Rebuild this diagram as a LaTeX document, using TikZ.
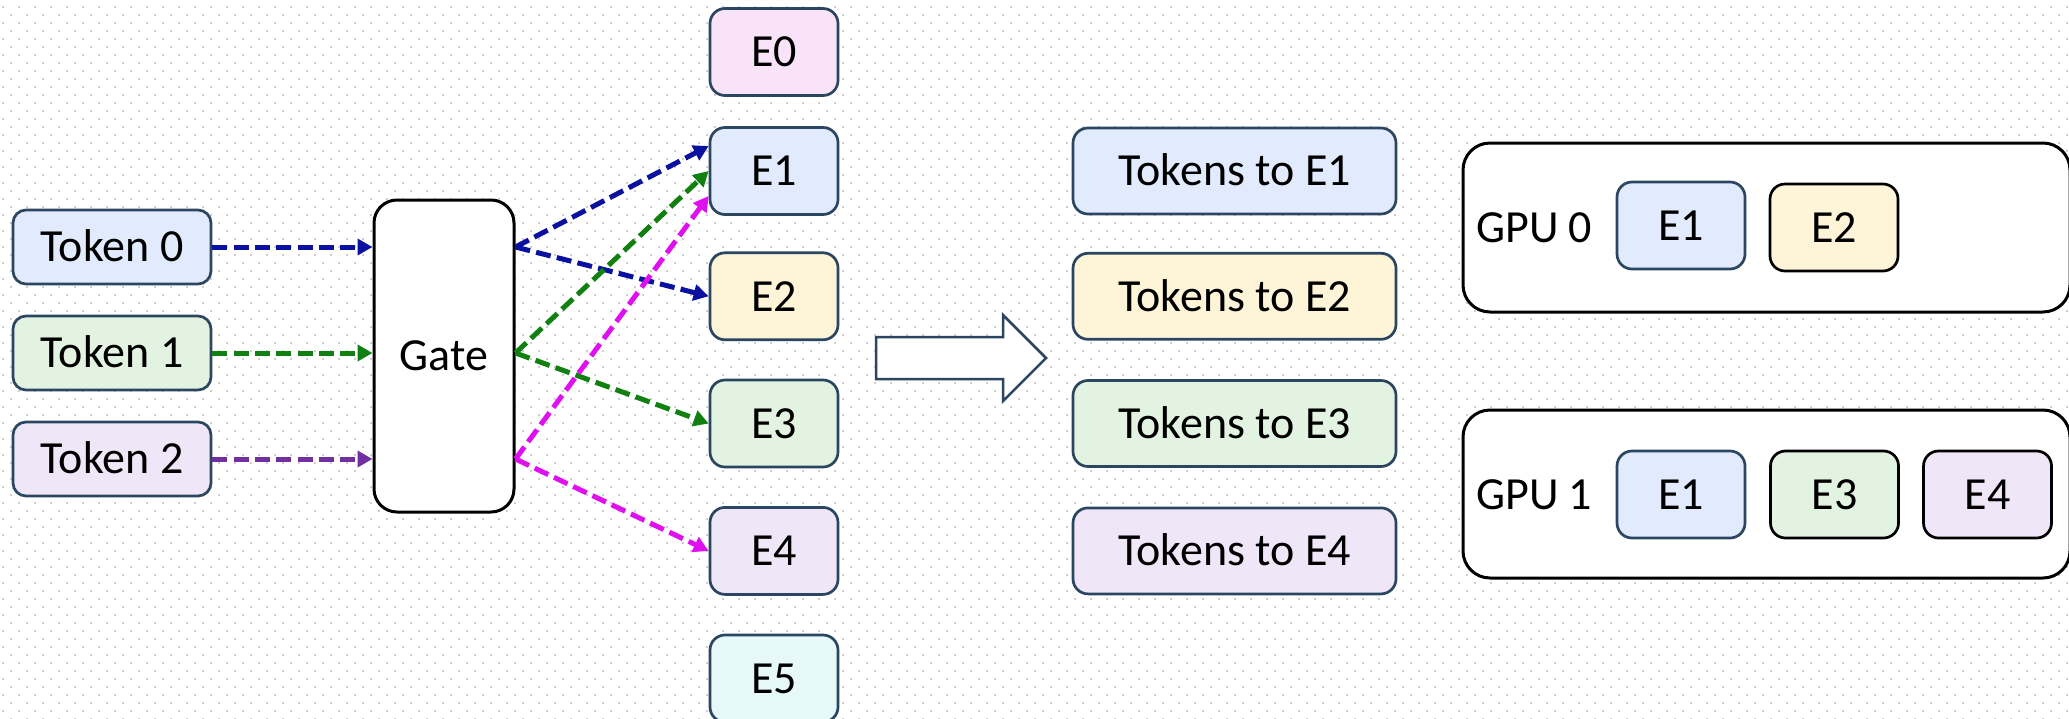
\documentclass[tikz,border=0pt]{standalone}
\usepackage{fontspec}
\setmainfont{Carlito}
\usetikzlibrary{arrows.meta}

\definecolor{edge}{RGB}{43,70,96}
\definecolor{dotc}{RGB}{206,206,206}
\definecolor{fblue}{RGB}{225,235,253}
\definecolor{fgreen}{RGB}{227,243,225}
\definecolor{flav}{RGB}{239,230,248}
\definecolor{fpink}{RGB}{248,227,249}
\definecolor{fyellow}{RGB}{254,244,215}
\definecolor{fcyan}{RGB}{230,249,248}
\definecolor{cblue}{RGB}{10,16,160}
\definecolor{cgreen}{RGB}{16,128,16}
\definecolor{cmag}{RGB}{222,16,240}
\definecolor{cpurple}{RGB}{112,48,160}

\begin{document}
\begin{tikzpicture}[x=1pt,y=-1pt,
  lbl/.style={font=\fontsize{46}{55}\selectfont, text height=29.6pt, text depth=0pt, inner sep=0pt},
  tokbox/.style={lbl, draw=edge, line width=2.7pt, rounded corners=13pt,
                 minimum width=198pt, minimum height=74pt},
  expbox/.style={lbl, draw=edge, line width=2.7pt, rounded corners=15pt,
                 minimum width=128pt, minimum height=87pt},
  sendbox/.style={lbl, draw=edge, line width=2.7pt, rounded corners=15pt,
                 minimum width=323pt, minimum height=86pt},
  gatebox/.style={lbl, draw=black, fill=white, line width=3pt, rounded corners=23pt,
                 minimum width=140pt, minimum height=312pt},
  gpubox/.style={draw=black, fill=white, line width=3pt, rounded corners=27pt,
                 minimum width=607pt, minimum height=169pt, inner sep=0pt},
  flow/.style={line width=5pt, dash pattern=on 15pt off 6.3pt,
               -{Triangle[length=15pt,width=16pt]}},
  dotrow/.style={draw=dotc, line width=2pt, dash pattern=on 2pt off 14pt},
  bigarrow/.style={draw=edge, fill=white, line width=2.5pt, line join=miter}
]
\useasboundingbox (0,0) rectangle (2069,718);
\clip (0,0) rectangle (2069,718);

% dotted background grid, staggered rows
\fill[white] (0,0) rectangle (2069,718);
\foreach \k in {-1,...,89} {
  \pgfmathsetmacro\yy{7.3+8*\k}
  \pgfmathsetmacro\xs{1.7+8*mod(\k+2,2)}
  \draw[dotrow] (\xs,\yy) -- (2069,\yy);
}

% input tokens
\node[tokbox, fill=fblue]  (t0) at (112,247) {Token 0};
\node[tokbox, fill=fgreen] (t1) at (112,353) {Token 1};
\node[tokbox, fill=flav]   (t2) at (112,459) {Token 2};

% router
\node[gatebox] (gate) at (444,356) {Gate};

% experts
\node[expbox, fill=fpink]   (e0) at (774,52)    {E0};
\node[expbox, fill=fblue]   (e1) at (774,171)   {E1};
\node[expbox, fill=fyellow] (e2) at (774,296.3) {E2};
\node[expbox, fill=fgreen]  (e3) at (774,423.5) {E3};
\node[expbox, fill=flav]    (e4) at (774,550.9) {E4};
\node[expbox, fill=fcyan]   (e5) at (774,678.5) {E5};

% tokens into the gate
\draw[flow, cblue]   (t0.east) -- (t0.east -| gate.west);
\draw[flow, cgreen]  (t1.east) -- (t1.east -| gate.west);
\draw[flow, cpurple] (t2.east) -- (t2.east -| gate.west);

% gate outputs
\coordinate (g0) at (t0.east -| gate.east);
\coordinate (g1) at (t1.east -| gate.east);
\coordinate (g2) at (t2.east -| gate.east);
\draw[flow, cblue]  (g0) -- ([yshift=25pt]e1.west);
\draw[flow, cblue]  (g0) -- (e2.west);
\draw[flow, cgreen] (g1) -- (e1.west);
\draw[flow, cgreen] (g1) -- (e3.west);
\draw[flow, cmag]   (g2) -- ([yshift=-25pt]e1.west);
\draw[flow, cmag]   (g2) -- (e4.west);

% block arrow
\draw[bigarrow] (876,337) -- (1003,337) -- (1003,315) -- (1046,358)
  -- (1003,401) -- (1003,379) -- (876,379) -- cycle;

% grouped tokens
\node[sendbox, fill=fblue]   (s1) at (1234.5,171)   {Tokens to E1};
\node[sendbox, fill=fyellow] (s2) at (1234.5,296.3) {Tokens to E2};
\node[sendbox, fill=fgreen]  (s3) at (1234.5,423.5) {Tokens to E3};
\node[sendbox, fill=flav]    (s4) at (1234.5,550.9) {Tokens to E4};

% devices
\node[gpubox] (gpu0) at (1766.5,227.5) {};
\node[gpubox, minimum height=168pt] (gpu1) at (1766.5,494) {};
\node[lbl, anchor=west] (gpu0l) at (1476,228) {GPU 0};
\node[lbl, anchor=west] (gpu1l) at (1476,494.3) {GPU 1};

\node[expbox, fill=fblue]               (p0e1) at (1681,225.5)   {E1};
\node[expbox, fill=fyellow, draw=black] (p0e2) at (1834,227.5)   {E2};
\node[expbox, fill=fblue]               (p1e1) at (1681,494.5)   {E1};
\node[expbox, fill=fgreen, draw=black]  (p1e3) at (1834.5,494.5) {E3};
\node[expbox, fill=flav, draw=black]    (p1e4) at (1987.5,494.5) {E4};
\end{tikzpicture}
\end{document}
